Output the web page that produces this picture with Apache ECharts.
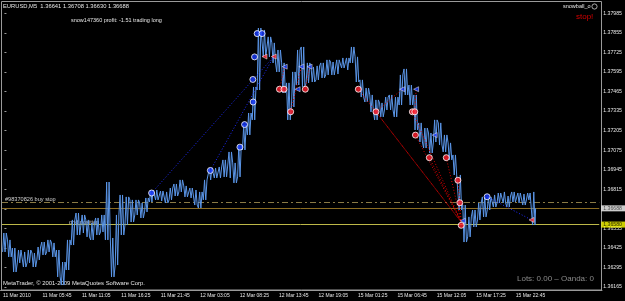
<!DOCTYPE html>
<html>
<head>
<meta charset="utf-8">
<script src="https://cdn.jsdelivr.net/npm/echarts@6/dist/echarts.min.js"></script>
<style>
  html, body { margin: 0; padding: 0; background: #000; }
  #chart { width: 625px; height: 301px; }
</style>
</head>
<body>
<div id="chart"></div>
<script>
// EURUSD M5, one slot = 8 bars (40 min); a time label every 8 slots
const slotCount = 122;
const timeLabels = ['11 Mar 2010', '11 Mar 05:45', '11 Mar 11:05', '11 Mar 16:25', '11 Mar 21:45',
  '12 Mar 03:05', '12 Mar 08:25', '12 Mar 13:45', '12 Mar 19:05', '15 Mar 01:25',
  '15 Mar 06:45', '15 Mar 12:05', '15 Mar 17:25', '15 Mar 22:45'];

// high / low of each slot
const barHigh = [1.36524, 1.36478, 1.36424, 1.36411, 1.36398, 1.36411, 1.36391, 1.36431, 1.36464, 1.36478,
  1.36458, 1.36411, 1.36331, 1.36478, 1.36611, 1.36657, 1.36644, 1.36611, 1.36591, 1.36624,
  1.36644, 1.36863, 1.36491, 1.36644, 1.36777, 1.36764, 1.36744, 1.36744, 1.36724, 1.36757,
  1.36810, 1.36810, 1.36803, 1.36797, 1.36823, 1.36850, 1.36877, 1.36837, 1.36823, 1.36810,
  1.36797, 1.36877, 1.36956, 1.36956, 1.36963, 1.37010, 1.37063, 1.36990, 1.37109, 1.37242,
  1.37322, 1.37495, 1.37887, 1.37874, 1.37828, 1.37788, 1.37741, 1.37655, 1.37522, 1.37595,
  1.37741, 1.37761, 1.37655, 1.37628, 1.37635, 1.37655, 1.37675, 1.37661, 1.37675, 1.37688,
  1.37688, 1.37761, 1.37695, 1.37542, 1.37488, 1.37442, 1.37409, 1.37389, 1.37428, 1.37442,
  1.37428, 1.37575, 1.37615, 1.37508, 1.37442, 1.37256, 1.37222, 1.37189, 1.37276, 1.37256,
  1.37176, 1.37123, 1.37043, 1.36910, 1.36710, 1.36631, 1.36677, 1.36724, 1.36764, 1.36764,
  1.36777, 1.36790, 1.36797, 1.36770, 1.36797, 1.36790, 1.36783, 1.36790, 1.36797];
const barLow = [1.36398, 1.36365, 1.36265, 1.36325, 1.36298, 1.36325, 1.36298, 1.36345, 1.36378, 1.36398,
  1.36365, 1.36232, 1.36178, 1.36278, 1.36444, 1.36511, 1.36524, 1.36498, 1.36478, 1.36511,
  1.36531, 1.36478, 1.36232, 1.36311, 1.36511, 1.36577, 1.36597, 1.36644, 1.36624, 1.36664,
  1.36730, 1.36744, 1.36737, 1.36724, 1.36744, 1.36770, 1.36797, 1.36764, 1.36757, 1.36710,
  1.36690, 1.36744, 1.36877, 1.36890, 1.36890, 1.36897, 1.36890, 1.36857, 1.36897, 1.37076,
  1.37176, 1.37276, 1.37475, 1.37695, 1.37695, 1.37655, 1.37595, 1.37455, 1.37276, 1.37362,
  1.37508, 1.37495, 1.37522, 1.37528, 1.37542, 1.37555, 1.37575, 1.37575, 1.37581, 1.37621,
  1.37608, 1.37655, 1.37528, 1.37428, 1.37395, 1.37329, 1.37276, 1.37296, 1.37342, 1.37342,
  1.37296, 1.37375, 1.37442, 1.37375, 1.37209, 1.37129, 1.37089, 1.37056, 1.37129, 1.37109,
  1.37063, 1.37010, 1.36910, 1.36677, 1.36464, 1.36498, 1.36564, 1.36611, 1.36631, 1.36677,
  1.36697, 1.36724, 1.36724, 1.36697, 1.36730, 1.36724, 1.36710, 1.36744, 1.36577];
const lastClose = 1.36688;

// price scale
const priceMin = 1.36165;
const priceMax = 1.38060;
const priceStep = 0.0013;

// horizontal levels
const buyStopLevel = 1.36730;
const bidLevel = 1.36688;
const gridLevel = 1.36580;

// trade marks: [slot position, price]
const blueCircles = [[30.06, 1.36790], [42.06, 1.36940], [48.10, 1.37095], [49.05, 1.37245], [50.80, 1.37395],
  [50.74, 1.37545], [51.09, 1.37695], [51.62, 1.37850], [52.63, 1.37850], [98.59, 1.36765]];
const redCircles = [[56.17, 1.37480], [57.11, 1.37480], [58.47, 1.37330], [61.46, 1.37480], [72.29, 1.37480],
  [75.89, 1.37330], [83.33, 1.37330], [83.82, 1.37330], [83.95, 1.37175], [86.79, 1.37025],
  [90.25, 1.37025], [92.63, 1.36875], [93.03, 1.36725], [93.30, 1.36575]];
const blueArrows = [[57.25, 1.37630], [59.89, 1.37480], [60.64, 1.37630], [62.33, 1.37630], [81.24, 1.37480],
  [84.09, 1.37480], [87.89, 1.37175], [93.64, 1.36605]];
const redArrows = [[53.12, 1.37697], [55.01, 1.37697], [107.67, 1.36611]];

const buyLines = [
  [[30.06, 1.36790], [55.01, 1.37697]],
  [[42.06, 1.36940], [55.01, 1.37697]],
  [[98.59, 1.36765], [107.67, 1.36611]]
];
const sellLines = [
  [[56.17, 1.37480], [57.25, 1.37630]],
  [[58.47, 1.37330], [60.64, 1.37630]],
  [[61.46, 1.37480], [62.33, 1.37630]],
  [[72.29, 1.37480], [93.30, 1.36597]],
  [[75.89, 1.37330], [93.30, 1.36597]],
  [[75.89, 1.37330], [81.24, 1.37480]],
  [[83.33, 1.37330], [93.30, 1.36597]],
  [[83.82, 1.37330], [84.09, 1.37480]],
  [[83.95, 1.37175], [93.30, 1.36597]],
  [[86.79, 1.37025], [93.30, 1.36597]],
  [[90.25, 1.37025], [93.30, 1.36597]],
  [[92.63, 1.36875], [93.30, 1.36597]]
];

const FONT = '"Liberation Sans", Arial, sans-serif';
const slots = [];
for (let i = 0; i < slotCount; i++) slots.push(i % 8 === 0 && timeLabels[i / 8] ? timeLabels[i / 8] : '');
const everyLabel = (i) => i % 8 === 0 && i / 8 < timeLabels.length;

// price path: each slot is crossed twice between its extremes, nearest one first
const pricePath = [];
let prev = barLow[0];
for (let i = 0; i < barHigh.length; i++) {
  const hi = barHigh[i], lo = barLow[i];
  const first = Math.abs(hi - prev) < Math.abs(lo - prev) ? hi : lo;
  const second = first === hi ? lo : hi;
  pricePath.push([i - 0.375, first], [i - 0.125, second], [i + 0.125, first], [i + 0.375, second]);
  prev = second;
}
pricePath.push([barHigh.length - 0.5, lastClose]);

const levelLine = (y, style) => ({ coords: [[-0.5, y], [slotCount - 0.5, y]], lineStyle: style });
const priceBox = (y, bg) => ({
  value: [slotCount - 0.5, y],
  label: { show: true, position: 'right', distance: 2, formatter: y.toFixed(5), color: '#000',
    backgroundColor: bg, padding: [1, 3, 0, 2], fontSize: 5.2, fontFamily: FONT }
});

const chart = echarts.init(document.getElementById('chart'));
chart.setOption({
  backgroundColor: '#000',
  animation: false,
  grid: [
    { left: 2, right: 23, top: 2, bottom: 14 },
    { left: 0, right: 23, top: 2, bottom: 11 }
  ],
  xAxis: [
    { type: 'value', gridIndex: 0, min: -0.5, max: slotCount - 0.5, show: false },
    {
      type: 'category', gridIndex: 1, data: slots, boundaryGap: true,
      axisLine: { lineStyle: { color: '#9a9a9a', width: 1 } },
      axisTick: { interval: everyLabel, length: 3, lineStyle: { color: '#9a9a9a' } },
      axisLabel: { interval: everyLabel, align: 'left', margin: 3, color: '#e6e6e6', fontSize: 5, fontFamily: FONT }
    }
  ],
  yAxis: [
    {
      type: 'value', gridIndex: 0, position: 'right', min: priceMin, max: priceMax, interval: priceStep,
      splitLine: { show: false },
      axisLine: { show: false },
      axisTick: { show: true, length: 2, lineStyle: { color: '#9a9a9a' } },
      axisLabel: { margin: 4, color: '#e6e6e6', fontSize: 5.2, fontFamily: FONT, showMaxLabel: false,
        formatter: (v) => v.toFixed(5) }
    },
    { type: 'value', gridIndex: 1, show: false }
  ],
  graphic: [
    { type: 'rect', silent: true, shape: { x: 1.5, y: 1.5, width: 600, height: 288.5 },
      style: { fill: null, stroke: '#9a9a9a', lineWidth: 1 } },
    { type: 'text', x: 3, y: 6.5, style: { text: 'EURUSD,M5  1.36641 1.36708 1.36630 1.36688',
      fill: '#e6e6e6', font: '5.8px ' + FONT, verticalAlign: 'middle' } },
    { type: 'text', x: 71, y: 20, style: { text: 'snow147360 profit: -1.51 trading long',
      fill: '#e6e6e6', font: '5.5px ' + FONT, verticalAlign: 'middle' } },
    { type: 'text', x: 563, y: 6.7, style: { text: 'snowball_o', fill: '#e6e6e6', font: '5.5px ' + FONT, verticalAlign: 'middle' } },
    { type: 'circle', shape: { cx: 594.5, cy: 6.5, r: 2.6 }, style: { fill: null, stroke: '#d0d0d0', lineWidth: 0.8 } },
    { type: 'text', x: 576, y: 16.5, style: { text: 'stop!', fill: '#d40000', font: '8px ' + FONT, verticalAlign: 'middle' } },
    { type: 'text', x: 5, y: 199.5, style: { text: '#98370826 buy stop', fill: '#d0d0d0', font: '5.6px ' + FONT, verticalAlign: 'middle' } },
    { type: 'text', x: 69, y: 222, style: { text: 'grid position', fill: '#d0d0d0', font: '5.6px ' + FONT, verticalAlign: 'middle' } },
    { type: 'text', x: 3, y: 283.5, style: { text: 'MetaTrader, \u00a9 2001-2009 MetaQuotes Software Corp.',
      fill: '#e6e6e6', font: '5.9px ' + FONT, verticalAlign: 'middle' } },
    { type: 'text', x: 517, y: 279, style: { text: 'Lots: 0.00 \u2013 Oanda: 0', fill: '#8a8a8a', font: '8px ' + FONT, verticalAlign: 'middle' } }
  ],
  series: [
    {
      type: 'lines', coordinateSystem: 'cartesian2d', xAxisIndex: 0, yAxisIndex: 0, silent: true, z: 1,
      data: [
        levelLine(buyStopLevel, { color: '#8a7a45', width: 1, type: [6, 3, 2, 3] }),
        levelLine(bidLevel, { color: '#8c6d23', width: 1, type: 'solid' }),
        levelLine(gridLevel, { color: '#bdb848', width: 1, type: 'solid' })
      ],
      lineStyle: { opacity: 1 }
    },
    {
      type: 'line', xAxisIndex: 0, yAxisIndex: 0, data: pricePath, showSymbol: false, silent: true, z: 2,
      lineStyle: { color: '#5b96e8', width: 1 }
    },
    {
      type: 'lines', coordinateSystem: 'cartesian2d', xAxisIndex: 0, yAxisIndex: 0, silent: true, z: 3,
      data: buyLines.map((c) => ({ coords: c })),
      lineStyle: { color: '#1f2cff', width: 1, type: [1, 2], opacity: 1 }
    },
    {
      type: 'lines', coordinateSystem: 'cartesian2d', xAxisIndex: 0, yAxisIndex: 0, silent: true, z: 3,
      data: sellLines.map((c) => ({ coords: c })),
      lineStyle: { color: '#e00000', width: 1, type: [1, 2], opacity: 1 }
    },
    {
      type: 'scatter', xAxisIndex: 0, yAxisIndex: 0, data: blueCircles, symbol: 'circle', symbolSize: 6, z: 4,
      itemStyle: { color: '#1a3cff', borderColor: '#ffffff', borderWidth: 1 }
    },
    {
      type: 'scatter', xAxisIndex: 0, yAxisIndex: 0, data: redCircles, symbol: 'circle', symbolSize: 6, z: 4,
      itemStyle: { color: '#ff2030', borderColor: '#ffffff', borderWidth: 1 }
    },
    {
      type: 'scatter', xAxisIndex: 0, yAxisIndex: 0, data: blueArrows, symbol: 'triangle', symbolRotate: 90, symbolSize: 5, z: 4,
      itemStyle: { color: '#1a3cff', borderColor: '#ffffff', borderWidth: 0.6 }
    },
    {
      type: 'scatter', xAxisIndex: 0, yAxisIndex: 0, data: redArrows, symbol: 'triangle', symbolRotate: 90, symbolSize: 5, z: 4,
      itemStyle: { color: '#ff2030', borderColor: '#ffffff', borderWidth: 0.6 }
    },
    {
      type: 'scatter', xAxisIndex: 0, yAxisIndex: 0, symbolSize: 0, silent: true, z: 10, clip: false,
      data: [priceBox(bidLevel, '#ffffff'), priceBox(gridLevel, '#ffff00')]
    }
  ]
});
</script>
</body>
</html>
